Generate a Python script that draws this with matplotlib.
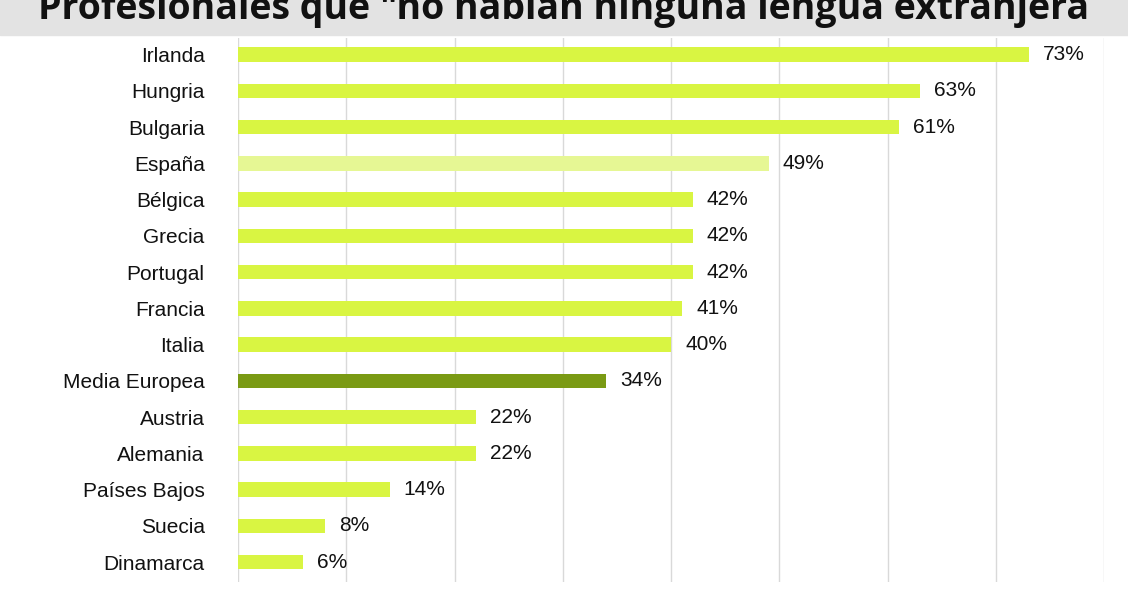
import matplotlib
matplotlib.use("Agg")
import matplotlib.pyplot as plt
from matplotlib.patches import Rectangle

countries = ["Irlanda","Hungria","Bulgaria","España","Bélgica","Grecia","Portugal","Francia","Italia",
             "Media Europea","Austria","Alemania","Países Bajos","Suecia","Dinamarca"]
values = [73,63,61,49,42,42,42,41,40,34,22,22,14,8,6]
colors = ["#d9f542"]*15
colors[3] = "#e6f794"
colors[9] = "#7a9a14"

fig = plt.figure(figsize=(11.28,5.91), dpi=100)
fig.patches.append(Rectangle((0,0.94),1,0.06,transform=fig.transFigure,color="#e3e3e3",zorder=0))
fig.text(0.5,0.985,'Profesionales que "no hablan ninguna lengua extranjera',ha="center",va="center",
         fontsize=27,fontweight="bold",family="Open Sans",color="#111")
ax = fig.add_axes([0.211,0.015,0.768,0.92])
y = list(range(len(countries)))
ax.barh(y, values, height=0.4, color=colors, zorder=2)
for yi,v in zip(y,values):
    ax.text(v+1.3, yi, f"{v}%", va="center", ha="left", fontsize=15, family="Liberation Sans", color="#111")
ax.set_yticks(y)
ax.set_yticklabels(countries, fontsize=15, family="Liberation Sans", color="#111")
ax.set_ylim(len(countries)-0.5+0.05, -0.5+0.05)
ax.set_xlim(0,80)
ax.set_xticks(range(0,81,10))
ax.tick_params(axis="x", labelbottom=False, length=0)
ax.tick_params(axis="y", length=0, pad=24)
ax.grid(axis="x", color="#d9d9d9", lw=1, zorder=0)
for s in ax.spines.values(): s.set_visible(False)
fig.savefig("out.png")
